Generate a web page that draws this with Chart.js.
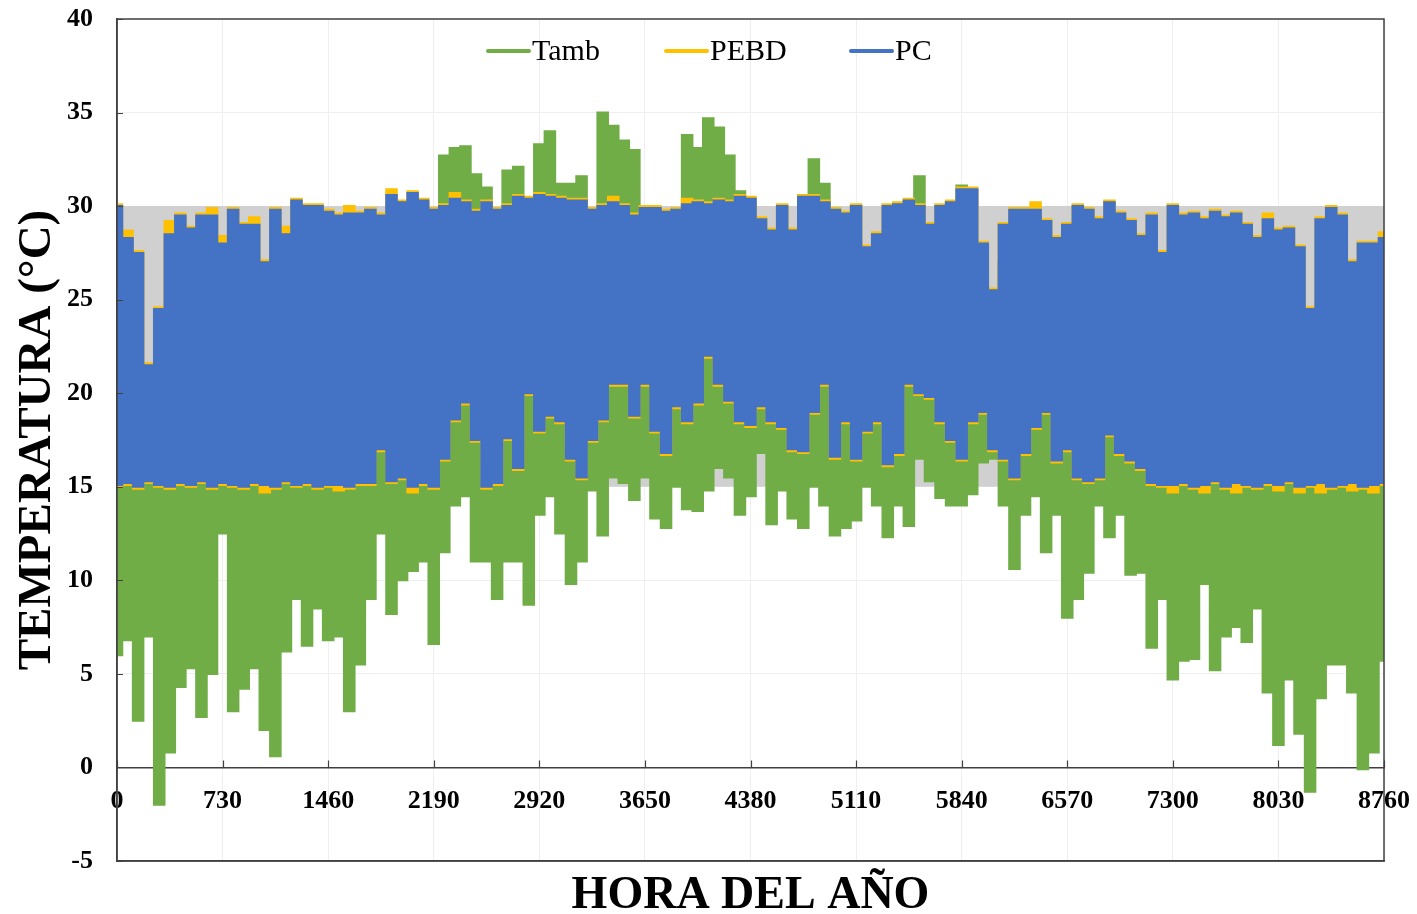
<!DOCTYPE html>
<html lang="es">
<head>
<meta charset="utf-8">
<title>Temperatura por hora del año</title>
<script src="https://cdn.jsdelivr.net/npm/chart.js@4.4.1/dist/chart.umd.min.js"></script>
<style>
    html, body { margin: 0; padding: 0; background: #fff; }
    #wrap { position: relative; width: 1417px; height: 914px; }
</style>
</head>
<body>
<div id="wrap"><canvas id="tempChart"></canvas></div>
<script>
// hour of the year for every sample (one every 73 h)
const hours = [
    0, 73, 146, 219, 292, 365, 438, 511, 584, 657, 730,
    803, 876, 949, 1022, 1095, 1168, 1241, 1314, 1387, 1460,
    1533, 1606, 1679, 1752, 1825, 1898, 1971, 2044, 2117, 2190,
    2263, 2336, 2409, 2482, 2555, 2628, 2701, 2774, 2847, 2920,
    2993, 3066, 3139, 3212, 3285, 3358, 3431, 3504, 3577, 3650,
    3723, 3796, 3869, 3942, 4015, 4088, 4161, 4234, 4307, 4380,
    4453, 4526, 4599, 4672, 4745, 4818, 4891, 4964, 5037, 5110,
    5183, 5256, 5329, 5402, 5475, 5548, 5621, 5694, 5767, 5840,
    5913, 5986, 6059, 6132, 6205, 6278, 6351, 6424, 6497, 6570,
    6643, 6716, 6789, 6862, 6935, 7008, 7081, 7154, 7227, 7300,
    7373, 7446, 7519, 7592, 7665, 7738, 7811, 7884, 7957, 8030,
    8103, 8176, 8249, 8322, 8395, 8468, 8541, 8614, 8687, 8760
];

// Tamb: highs and lows of each interval
const tambHigh = [
    17, 17, 17, 17, 17, 17, 17, 17, 17, 17,
    17, 17, 17, 17, 17, 17, 17, 17, 17, 17,
    17, 17, 17, 17, 17, 18, 20, 22, 24, 26,
    27, 32.7, 33.1, 33.2, 31.7, 31, 28, 31.9, 32.1, 29,
    33.3, 34, 31.2, 31.2, 31.6, 29, 35, 34.3, 33.5, 33,
    29, 29, 29, 29, 33.8, 33.1, 34.7, 34.2, 32.7, 30.8,
    29, 28, 26.5, 28, 26.5, 28, 32.5, 31.2, 28, 28,
    28, 25, 26.5, 28, 28, 28, 31.6, 27, 28, 28,
    31.1, 28, 26, 23, 27, 27, 27, 27, 27, 26,
    25, 25, 25, 25, 25, 25, 24, 24, 23, 22,
    20, 18, 17, 17, 17, 17, 17, 17, 17, 17,
    17, 17, 17, 17, 17, 17, 17, 17, 17, 17,
    18.5
];
const tambLow = [
    6, 6.8, 2.5, 7, -2, 0.8, 4.3, 5.3, 2.7, 5,
    12.5, 3, 4.2, 5.3, 2, 0.6, 6.2, 9, 6.5, 8.5,
    6.8, 7, 3, 5.5, 9, 12.5, 8.2, 10, 10.5, 11,
    6.6, 11.5, 14, 14.5, 11, 11, 9, 11, 11, 8.7,
    13.5, 14.5, 12.5, 9.8, 11, 14.8, 12.4, 15.5, 15.2, 14.3,
    15.5, 13.3, 12.8, 15, 13.8, 13.7, 14.8, 16, 15.5, 13.5,
    14.5, 16.8, 13, 14.8, 13.3, 12.8, 15, 14, 12.4, 12.8,
    13.2, 15, 14, 12.3, 14, 12.9, 16.5, 15.3, 14.4, 14,
    14, 14.6, 16.3, 16.5, 14, 10.6, 13.5, 14.5, 11.5, 13.5,
    8, 9, 10.4, 14, 12.3, 13.5, 10.3, 10.4, 6.4, 9,
    4.7, 5.7, 5.8, 9.8, 5.2, 7, 7.5, 6.7, 8.5, 4,
    1.2, 4.7, 1.8, -1.3, 3.7, 5.5, 5.5, 4, -0.1, 0.8,
    5.7
];

// PEBD
const pebdHigh = [
    30.1, 28.7, 27.6, 21.6, 24.6, 29.2, 29.6, 28.9, 29.6, 29.9,
    28.4, 29.9, 29.1, 29.4, 27.1, 29.9, 28.9, 30.4, 30.1, 30.1,
    29.8, 29.6, 30, 29.7, 29.9, 29.6, 30.9, 30.3, 30.8, 30.4,
    29.9, 30.1, 30.7, 30.3, 29.8, 30.3, 29.9, 30.1, 30.6, 30.5,
    30.7, 30.6, 30.5, 30.4, 30.4, 29.9, 30.1, 30.5, 30.1, 29.6,
    30, 30, 29.8, 29.9, 30.4, 30.3, 30.2, 30.4, 30.3, 30.6,
    30.5, 29.4, 28.8, 30.1, 28.8, 30.6, 30.6, 30.3, 29.9, 29.7,
    30.1, 27.9, 28.6, 30.1, 30.2, 30.4, 30.1, 29.1, 30.1, 30.3,
    31, 31, 28.1, 25.6, 29.1, 29.9, 29.9, 30.2, 29.3, 28.4,
    29.1, 30.1, 29.9, 29.4, 30.3, 29.7, 29.3, 28.5, 29.6, 27.6,
    30.1, 29.6, 29.7, 29.4, 29.8, 29.5, 29.7, 29.1, 28.4, 29.6,
    28.8, 28.9, 27.9, 24.6, 29.4, 30, 29.6, 27.1, 28.1, 28.1,
    28.6
];
const pebdLow = [
    15, 15.1, 14.9, 15.2, 15, 14.9, 15.1, 15, 15.2, 14.9,
    15.1, 15, 14.9, 15.1, 14.7, 14.9, 15.2, 15, 15.1, 14.9,
    15, 14.8, 14.9, 15.1, 15.1, 16.9, 15.2, 15.4, 14.7, 15.1,
    14.9, 16.4, 18.5, 19.4, 17.4, 14.9, 15.1, 17.5, 15.9, 19.9,
    17.9, 18.7, 18.4, 16.4, 15.4, 17.4, 18.5, 20.4, 20.4, 18.7,
    20.4, 17.9, 16.7, 19.2, 18.4, 19.4, 21.9, 20.4, 19.5, 18.4,
    18.2, 19.2, 18.4, 18.1, 16.9, 16.8, 18.9, 20.4, 16.5, 18.4,
    16.4, 17.9, 18.4, 16.1, 16.7, 20.4, 19.9, 19.7, 18.4, 17.4,
    16.4, 18.4, 18.9, 16.9, 16.4, 15.4, 16.7, 18.1, 18.9, 16.3,
    16.9, 15.4, 15.2, 15.4, 17.7, 16.7, 16.3, 15.9, 15.1, 15,
    14.7, 15.1, 14.9, 14.7, 15.2, 14.9, 14.7, 15, 14.9, 15.1,
    14.8, 15.2, 14.7, 15, 14.7, 14.9, 15, 14.8, 14.9, 14.7,
    15.1
];

// PC
const pcHigh = [
    30, 28.3, 27.5, 21.5, 24.5, 28.5, 29.5, 28.8, 29.5, 29.5,
    28, 29.8, 29, 29, 27, 29.8, 28.5, 30.3, 30, 30,
    29.7, 29.5, 29.6, 29.6, 29.8, 29.5, 30.6, 30.2, 30.7, 30.3,
    29.8, 30, 30.4, 30.2, 29.7, 30.2, 29.8, 30, 30.5, 30.4,
    30.6, 30.5, 30.4, 30.3, 30.3, 29.8, 30, 30.2, 30, 29.5,
    29.9, 29.9, 29.7, 29.8, 30.1, 30.2, 30.1, 30.3, 30.2, 30.5,
    30.4, 29.3, 28.7, 30, 28.7, 30.5, 30.5, 30.2, 29.8, 29.6,
    30, 27.8, 28.5, 30, 30.1, 30.3, 30, 29, 30, 30.2,
    30.9, 30.9, 28, 25.5, 29, 29.8, 29.8, 29.8, 29.2, 28.3,
    29, 30, 29.8, 29.3, 30.2, 29.6, 29.2, 28.4, 29.5, 27.5,
    30, 29.5, 29.6, 29.3, 29.7, 29.4, 29.6, 29, 28.3, 29.3,
    28.7, 28.8, 27.8, 24.5, 29.3, 29.9, 29.5, 27, 28, 28,
    28.3
];
const pcLow = [
    15.1, 15.2, 15, 15.3, 15.1, 15, 15.2, 15.1, 15.3, 15,
    15.2, 15.1, 15, 15.2, 15.1, 15, 15.3, 15.1, 15.2, 15,
    15.1, 15.1, 15, 15.2, 15.2, 17, 15.3, 15.5, 15, 15.2,
    15, 16.5, 18.6, 19.5, 17.5, 15, 15.2, 17.6, 16, 20,
    18, 18.8, 18.5, 16.5, 15.5, 17.5, 18.6, 20.5, 20.5, 18.8,
    20.5, 18, 16.8, 19.3, 18.5, 19.5, 22, 20.5, 19.6, 18.5,
    18.3, 19.3, 18.5, 18.2, 17, 16.9, 19, 20.5, 16.6, 18.5,
    16.5, 18, 18.5, 16.2, 16.8, 20.5, 20, 19.8, 18.5, 17.5,
    16.5, 18.5, 19, 17, 16.5, 15.5, 16.8, 18.2, 19, 16.4,
    17, 15.5, 15.3, 15.5, 17.8, 16.8, 16.4, 16, 15.2, 15.1,
    15.1, 15.2, 15, 15.1, 15.3, 15, 15.2, 15.1, 15, 15.2,
    15.1, 15.3, 15, 15.1, 15.2, 15, 15.1, 15.2, 15, 15.1,
    15.2
];

// comfort band 15-30 °C
const comfortHours = [0, 8760];
const comfortTop = [30, 30];
const comfortBottom = [15, 15];

const seriesNames = ['Tamb', 'PEBD', 'PC'];
const seriesColors = ['#70AD47', '#FFC000', '#4472C4'];

const serif = 'Liberation Serif';

function toPoints(xs, ys) {
    return xs.map((x, i) => ({ x: x, y: ys[i] }));
}

function bandPair(name, upper, lower, color, order) {
    const common = {
        borderColor: color,
        backgroundColor: color,
        borderWidth: 2,
        pointRadius: 0,
        stepped: 'middle',
        order: order
    };
    return [
        Object.assign({ label: name, data: toPoints(hours, upper), fill: '+1' }, common),
        Object.assign({ label: name + ' min', data: toPoints(hours, lower), fill: false }, common)
    ];
}

const datasets = [
    {
        label: 'confort', data: toPoints(comfortHours, comfortTop), fill: '+1',
        borderWidth: 0, pointRadius: 0, backgroundColor: '#D0D0D0', borderColor: '#D0D0D0', order: 10
    },
    {
        label: 'confort min', data: toPoints(comfortHours, comfortBottom), fill: false,
        borderWidth: 0, pointRadius: 0, backgroundColor: '#D0D0D0', borderColor: '#D0D0D0', order: 10
    },
    ...bandPair(seriesNames[0], tambHigh, tambLow, seriesColors[0], 8),
    ...bandPair(seriesNames[1], pebdHigh, pebdLow, seriesColors[1], 6),
    ...bandPair(seriesNames[2], pcHigh, pcLow, seriesColors[2], 4)
];

// frame, inner tick marks and legend inside the plot
const framePlugin = {
    id: 'frame',
    afterDatasetsDraw(chart) {
        const { ctx, chartArea: a, scales } = chart;
        ctx.save();
        ctx.strokeStyle = '#404040';
        ctx.lineWidth = 1.5;
        ctx.strokeRect(a.left, a.top, a.right - a.left, a.bottom - a.top);

        ctx.beginPath();
        scales.y.ticks.forEach(t => {
            const py = Math.round(scales.y.getPixelForValue(t.value)) + 0.5;
            ctx.moveTo(a.left, py);
            ctx.lineTo(a.left + 6, py);
        });
        const y0 = scales.y.getPixelForValue(0);
        scales.x2.ticks.forEach(t => {
            const px = Math.round(scales.x2.getPixelForValue(t.value)) + 0.5;
            ctx.moveTo(px, y0);
            ctx.lineTo(px, y0 - 7);
        });
        ctx.lineWidth = 1.2;
        ctx.stroke();

        // legend
        const items = [
            { x: 488, text: seriesNames[0], color: seriesColors[0] },
            { x: 666, text: seriesNames[1], color: seriesColors[1] },
            { x: 851, text: seriesNames[2], color: seriesColors[2] }
        ];
        const ly = 51;
        ctx.font = '30px "' + serif + '"';
        ctx.textBaseline = 'middle';
        ctx.textAlign = 'left';
        items.forEach(it => {
            ctx.strokeStyle = it.color;
            ctx.lineWidth = 4;
            ctx.lineCap = 'round';
            ctx.beginPath();
            ctx.moveTo(it.x, ly);
            ctx.lineTo(it.x + 41, ly);
            ctx.stroke();
            ctx.fillStyle = '#000';
            ctx.fillText(it.text, it.x + 44, ly + 1);
        });
        ctx.restore();
    }
};

const tickFont = { family: serif, size: 26, weight: 'bold' };

new Chart(document.getElementById('tempChart'), {
    type: 'line',
    data: { datasets: datasets },
    plugins: [framePlugin],
    options: {
        responsive: true,
        maintainAspectRatio: false,
        animation: false,
        events: [],
        layout: { padding: { top: 19, right: 33, bottom: 0, left: 0 } },
        plugins: {
            legend: { display: false },
            tooltip: { enabled: false }
        },
        scales: {
            x: {
                type: 'linear',
                min: 0,
                max: 8760,
                ticks: { display: false, stepSize: 730 },
                grid: { color: '#EFEFEF', drawTicks: false },
                border: { color: '#404040', width: 1.5 },
                title: {
                    display: true,
                    text: 'HORA DEL AÑO',
                    color: '#000',
                    font: { family: serif, size: 46, weight: 'bold', lineHeight: 0.76 },
                    padding: { top: 0, bottom: 0 }
                },
                afterFit(scale) {
                    scale.height = 53;
                    scale.paddingLeft = 0;
                    scale.paddingRight = 0;
                }
            },
            x2: {
                type: 'linear',
                axis: 'x',
                position: { y: 0 },
                min: 0,
                max: 8760,
                ticks: {
                    stepSize: 730,
                    autoSkip: false,
                    maxRotation: 0,
                    color: '#000',
                    font: tickFont,
                    padding: 18,
                    callback: v => String(v)
                },
                grid: { display: false, drawTicks: false },
                border: { color: '#404040', width: 1.5 },
                afterFit(scale) {
                    scale.paddingLeft = 0;
                    scale.paddingRight = 0;
                }
            },
            y: {
                min: -5,
                max: 40,
                ticks: {
                    stepSize: 5,
                    color: '#000',
                    font: tickFont,
                    padding: 24,
                    callback: v => String(v)
                },
                grid: { color: '#EFEFEF', drawTicks: false },
                border: { color: '#404040', width: 1.5 },
                title: {
                    display: true,
                    text: 'TEMPERATURA (°C)',
                    color: '#000',
                    font: { family: serif, size: 47, weight: 'bold', lineHeight: 1 },
                    padding: { top: 14, bottom: 0 }
                },
                afterFit(scale) {
                    scale.width = 117;
                    scale.paddingTop = 0;
                    scale.paddingBottom = 0;
                }
            }
        }
    }
});
</script>
</body>
</html>
